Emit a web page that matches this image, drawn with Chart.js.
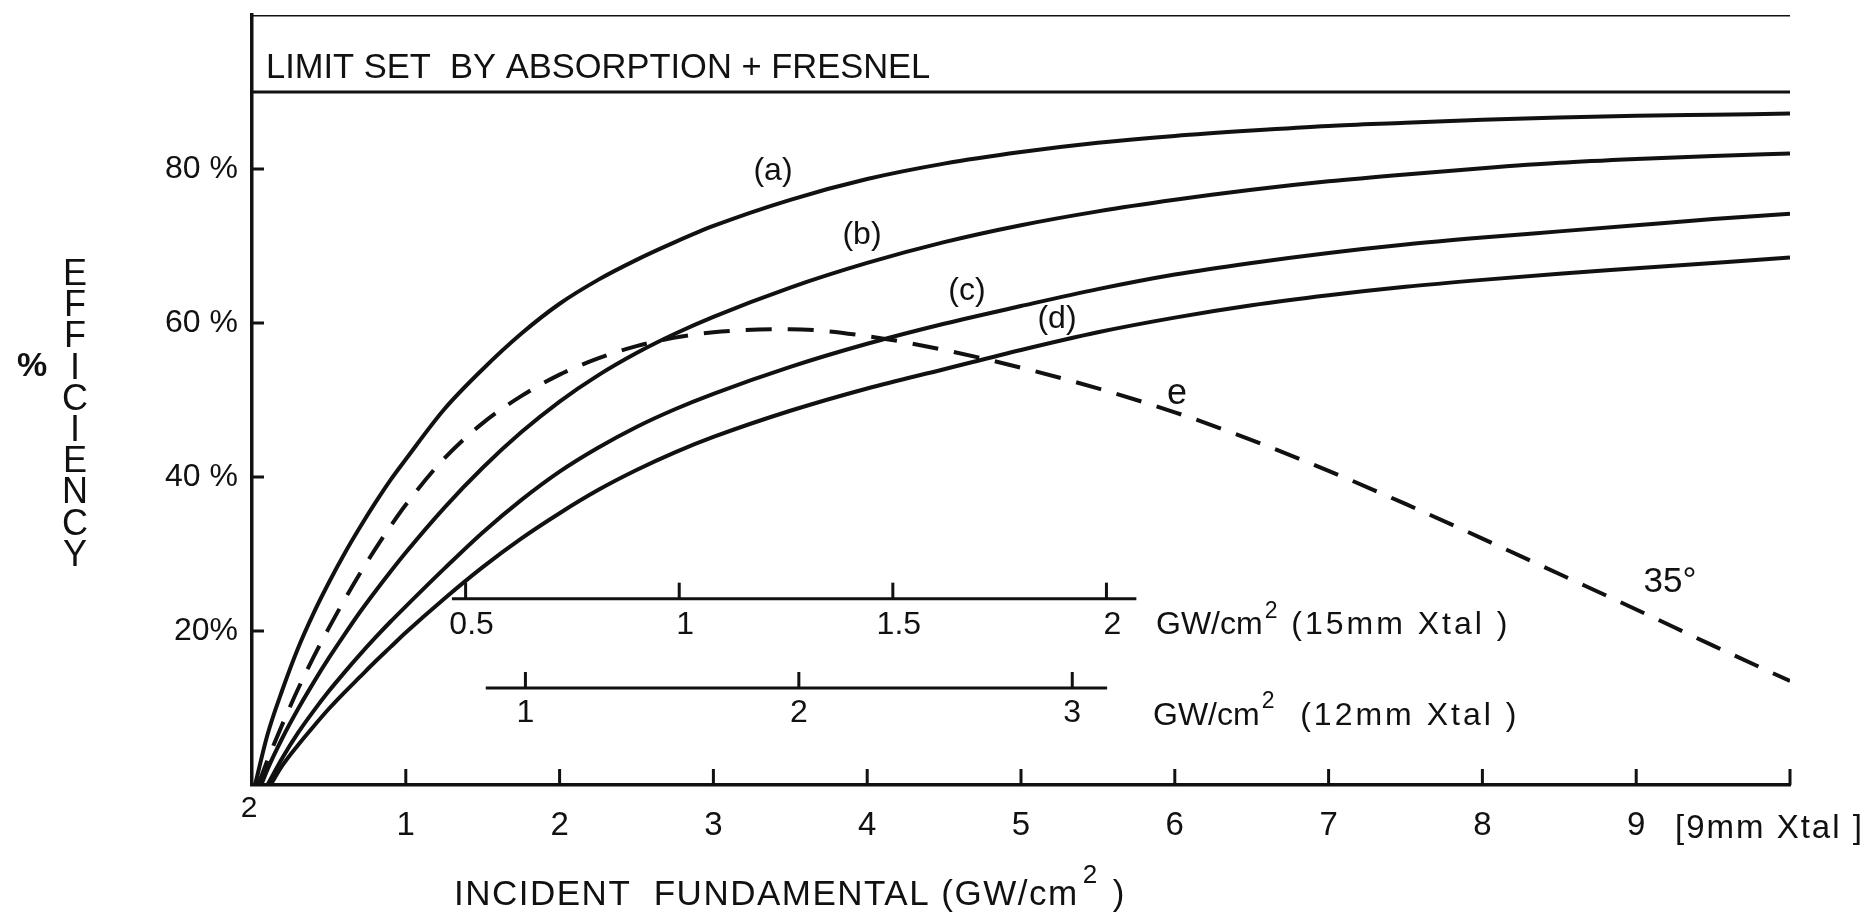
<!DOCTYPE html>
<html>
<head>
<meta charset="utf-8">
<title>Efficiency vs incident fundamental</title>
<script src="https://cdn.jsdelivr.net/npm/chart.js@4.4.1/dist/chart.umd.min.js"></script>
<style>
  html, body { margin: 0; padding: 0; background: #fff; }
  #wrap { width: 1874px; height: 916px; position: relative; }
</style>
</head>
<body>
<div id="wrap"><canvas id="effChart"></canvas></div>
<script>
const INK = '#111';
const FONT = '"Liberation Sans", Arial, sans-serif';

// --- data ---
const xGrid = [0.1, 0.2, 0.3, 0.4, 0.5, 0.6, 0.7, 0.8, 0.9, 1.0, 1.25, 1.5, 1.75, 2.0, 2.25, 2.5, 2.75, 3.0,
               3.5, 4.0, 4.5, 5.0, 5.5, 6.0, 6.5, 7.0, 7.5, 8.0, 8.5, 9.0, 9.5, 10.0];
const curveA = [6.5, 12.5, 17.8, 22.3, 26.3, 30, 33.4, 36.6, 39.6, 42.3, 48.8, 54, 58.6, 62.5, 65.6, 68.2, 70.5, 72.6,
                76, 78.7, 80.7, 82.2, 83.4, 84.3, 85, 85.6, 86, 86.4, 86.7, 86.9, 87.05, 87.2];
const curveB = [2, 6.2, 9.9, 13.3, 16.5, 19.5, 22.4, 25.1, 27.7, 30.2, 36, 41.2, 45.8, 49.8, 53.2, 56.1, 58.6, 60.8,
                64.6, 67.8, 70.5, 72.7, 74.5, 76, 77.3, 78.4, 79.3, 80.1, 80.8, 81.3, 81.7, 82];
const curveC = [0, 3.6, 6.8, 9.6, 12.2, 14.6, 16.9, 19.1, 21.2, 23.2, 28.1, 32.8, 37, 40.7, 43.8, 46.5, 48.8, 50.8,
                54.3, 57.3, 59.9, 62.2, 64.4, 66.3, 67.8, 69.1, 70.2, 71.1, 71.9, 72.7, 73.5, 74.2];
const curveD = [null, 2.6, 5.2, 7.6, 9.9, 12, 14, 16, 17.9, 19.8, 24.2, 28.3, 32, 35.3, 38.3, 40.9, 43.2, 45.2,
                48.6, 51.5, 54, 56.5, 58.8, 60.7, 62.3, 63.6, 64.7, 65.6, 66.4, 67.1, 67.8, 68.5];
const curveE = [3.2, 8, 12.5, 16.6, 20.4, 24, 27.4, 30.6, 33.6, 36.4, 42.4, 47, 50.5, 53.3, 55.4, 57, 58.1, 58.8,
                59.2, 58.3, 56.5, 54.2, 51.5, 48.4, 44.8, 40.8, 36.5, 32, 27.4, 22.8, 18.1, 13.5];
// where each curve leaves the x axis (a, b, c, d, e)
const startX = [0.02, 0.06, 0.1, 0.12, 0.04];

const limitLevel = 90;
const topLevel = 100;

const xTicks = [0, 1, 2, 3, 4, 5, 6, 7, 8, 9, 10];
const xTickLabels = ['', '1', '2', '3', '4', '5', '6', '7', '8', '9', ''];
const yTicks = [20, 40, 60, 80];
const yTickLabels = ['20%', '40 %', '60 %', '80 %'];

// secondary intensity scales for the other crystal lengths
const ticks15 = [0.5, 1, 1.5, 2];
const labels15 = ['0.5', '1', '1.5', '2'];
const ticks12 = [1, 2, 3];
const labels12 = ['1', '2', '3'];

function series(values, x0) {
    const pts = [{ x: x0, y: 0 }];
    xGrid.forEach((x, i) => {
        if (x > x0 && values[i] !== null) pts.push({ x: x, y: values[i] });
    });
    return pts;
}

function solid(data) {
    return { data, borderColor: INK, borderWidth: 4, pointRadius: 0, cubicInterpolationMode: 'monotone' };
}

function text(ctx, str, x, y, size, opts = {}) {
    ctx.font = (opts.weight || 'normal') + ' ' + size + 'px ' + FONT;
    ctx.textAlign = opts.align || 'left';
    ctx.textBaseline = opts.baseline || 'middle';
    ctx.letterSpacing = (opts.spacing || 0) + 'px';
    ctx.fillText(str, x, y);
    const w = ctx.measureText(str).width;
    ctx.letterSpacing = '0px';
    return w;
}

function stroke(ctx, x1, y1, x2, y2) {
    ctx.beginPath();
    ctx.moveTo(x1, y1);
    ctx.lineTo(x2, y2);
    ctx.stroke();
}

// text with a raised "2" after "GW/cm"
function unitLabel(ctx, left, cy, size, tail, tailSpacing) {
    let x = left;
    x += text(ctx, 'GW/cm', x, cy, size);
    x += text(ctx, '2', x + 2, cy - 14, Math.round(size * 0.72)) + 4;
    text(ctx, tail, x, cy, size, { spacing: tailSpacing });
}

const overlay = {
    id: 'overlay',
    afterDraw(chart) {
        const { ctx } = chart;
        const xs = chart.scales.x, ys = chart.scales.y;
        const px = v => xs.getPixelForValue(v);
        const py = v => ys.getPixelForValue(v);
        ctx.save();
        ctx.strokeStyle = INK;
        ctx.fillStyle = INK;
        ctx.lineWidth = 3;

        // inward tick marks on the main axes
        yTicks.forEach(v => stroke(ctx, px(0), py(v), px(0) + 12, py(v)));
        xTicks.slice(1).forEach(v => stroke(ctx, px(v), py(0), px(v), py(0) - 16));

        // 15mm crystal scale: intensity scales as (L/9)^2
        const k15 = Math.pow(15 / 9, 2);
        stroke(ctx, px(1.30), py(24.2), px(5.75), py(24.2));
        ticks15.forEach((v, i) => {
            stroke(ctx, px(v * k15), py(24.2), px(v * k15), py(24.2) - 16);
            text(ctx, labels15[i], px(v * k15) + 6, py(24.2) + 27, 32, { align: 'center' });
        });
        unitLabel(ctx, 1156, py(24.2) + 27, 32, ' (15mm Xtal )', 3);

        // 12mm crystal scale
        const k12 = Math.pow(12 / 9, 2);
        stroke(ctx, px(1.52), py(12.6), px(5.56), py(12.6));
        ticks12.forEach((v, i) => {
            stroke(ctx, px(v * k12), py(12.6), px(v * k12), py(12.6) - 16);
            text(ctx, labels12[i], px(v * k12), py(12.6) + 25, 32, { align: 'center' });
        });
        unitLabel(ctx, 1153, py(12.6) + 28, 32, '  (12mm Xtal )', 3);

        // limit caption
        text(ctx, 'LIMIT SET  BY ABSORPTION + FRESNEL', 266, 68, 34.5);

        // curve labels
        text(ctx, '(a)', 773, 171, 32, { align: 'center' });
        text(ctx, '(b)', 862, 235, 32, { align: 'center' });
        text(ctx, '(c)', 967, 291, 32, { align: 'center' });
        text(ctx, '(d)', 1057, 319, 32, { align: 'center' });
        text(ctx, 'e', 1177, 394, 36, { align: 'center' });
        text(ctx, '35°', 1670, 582, 35, { align: 'center' });

        // origin label and crystal note on the main x axis
        text(ctx, '2', 249, 809, 30, { align: 'center' });
        text(ctx, '[9mm Xtal ]', 1675, 829, 33, { spacing: 2 });

        // x axis title
        let tx = 454;
        tx += text(ctx, 'INCIDENT  FUNDAMENTAL (GW/cm', tx, 895, 35, { spacing: 1.5 });
        tx += text(ctx, '2', tx + 4, 876, 26) + 10;
        text(ctx, ' )', tx, 895, 35);

        // y axis title, stacked letters
        text(ctx, '%', 32, 367, 34, { align: 'center', weight: 'bold' });
        'EFFICIENCY'.split('').forEach((ch, i) => {
            text(ctx, ch, 75, 275 + i * 31.2, 36, { align: 'center' });
        });

        ctx.restore();
    }
};

const limitLines = [
    { data: [{ x: 0, y: topLevel }, { x: 10, y: topLevel }], borderColor: INK, borderWidth: 3, pointRadius: 0 },
    { data: [{ x: 0, y: limitLevel }, { x: 10, y: limitLevel }], borderColor: INK, borderWidth: 3, pointRadius: 0 }
];

const curveE_ds = solid(series(curveE, startX[4]));
curveE_ds.borderDash = [26, 16];

new Chart(document.getElementById('effChart'), {
    type: 'line',
    data: {
        datasets: [
            ...limitLines,
            solid(series(curveA, startX[0])),
            solid(series(curveB, startX[1])),
            solid(series(curveC, startX[2])),
            solid(series(curveD, startX[3])),
            curveE_ds
        ]
    },
    options: {
        responsive: true,
        maintainAspectRatio: false,
        animation: false,
        layout: { padding: { top: 15, right: 84, left: 0, bottom: 0 } },
        plugins: { legend: { display: false }, tooltip: { enabled: false } },
        scales: {
            x: {
                type: 'linear',
                min: 0,
                max: 10,
                grid: { display: false, drawTicks: false },
                border: { display: true, color: INK, width: 3.5 },
                afterBuildTicks: s => { s.ticks = xTicks.map(v => ({ value: v })); },
                afterFit: s => { s.height = 131; s.paddingLeft = 0; s.paddingRight = 0; },
                ticks: {
                    color: INK,
                    padding: 21,
                    maxRotation: 0,
                    font: { family: FONT, size: 33 },
                    callback: v => xTickLabels[xTicks.indexOf(v)]
                }
            },
            y: {
                type: 'linear',
                min: 0,
                max: 100,
                grid: { display: false, drawTicks: false },
                border: { display: true, color: INK, width: 3.5 },
                afterBuildTicks: s => { s.ticks = yTicks.map(v => ({ value: v })); },
                afterFit: s => { s.width = 252; s.paddingTop = 0; s.paddingBottom = 0; },
                ticks: {
                    color: INK,
                    padding: 14,
                    font: { family: FONT, size: 32 },
                    callback: v => yTickLabels[yTicks.indexOf(v)]
                }
            }
        }
    },
    plugins: [overlay]
});
</script>
</body>
</html>
